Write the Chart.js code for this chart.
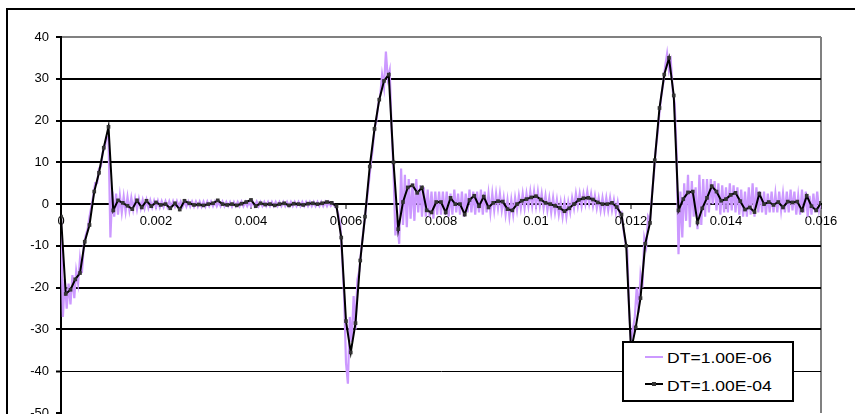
<!DOCTYPE html>
<html>
<head>
<meta charset="utf-8">
<script src="https://cdn.jsdelivr.net/npm/chart.js@4.4.1/dist/chart.umd.min.js"></script>
<style>
  html,body{margin:0;padding:0;background:#fff;overflow:hidden;width:855px;height:414px;}
  #wrap{position:relative;width:855px;height:414px;overflow:hidden;}
  #frame{position:absolute;left:6px;top:8px;width:900px;height:500px;border:2px solid #000;}
  #ch{position:absolute;left:0;top:0;}
  #legend{position:absolute;left:622px;top:341px;width:172px;height:61px;box-sizing:border-box;
    border:2px solid #000;background:#fff;font-family:"Liberation Sans",Arial,sans-serif;font-size:15px;color:#000;}
  .lg-line{position:absolute;left:21px;width:18px;height:2px;}
  .lg-dot{position:absolute;left:7px;top:-1px;width:4px;height:4px;}
  .lg-text{position:absolute;left:43px;height:18px;line-height:18px;white-space:nowrap;
    transform:scaleX(1.17);transform-origin:0 50%;}
</style>
</head>
<body>
<div id="wrap">
  <div id="frame"></div>
  <canvas id="ch" width="855" height="460"></canvas>
  <div id="legend"></div>
</div>
<script>
// ---- data ----
const seriesNames = ['DT=1.00E-06', 'DT=1.00E-04'];
const seriesColors = ['#CC99FF', '#000000'];
const xTickLabels = ['0', '0.002', '0.004', '0.006', '0.008', '0.01', '0.012', '0.014', '0.016'];
const yTickLabels = ['-50', '-40', '-30', '-20', '-10', '0', '10', '20', '30', '40'];

// DT=1.00E-04 : one value every 1e-4 s, t = 0 .. 0.016
const coarseStep = 0.0001;
const coarseVals = [
  -3, -21.5, -20.5, -18, -16.5, -9, -5, 3, 7.5, 13.5,
  18.5, -1.5, 0.9, 0.3, -0.4, -1.2, 0.9, -0.8, 0.8, -0.5,
  0.4, -0.2, 0, -1, 0.2, -1.3, 0.8, 0.2, -0.2, -0.1,
  -0.3, 0, 0.2, 0.9, 0, -0.2, 0, -0.3, 0.1, 0.5,
  1, -0.5, 0.2, -0.1, 0, -0.3, 0, 0.2, -0.3, 0.1,
  0, -0.2, 0.1, 0.2, 0, 0.2, 0.5, 0.3, -0.5, -8,
  -28, -35.5, -28.5, -13.5, -3, 9, 18, 25, 29.5, 31,
  10, -6, 0.5, 4, 4.5, 2.7, 4, -1.5, -2, 0.5,
  0.5, -2, 1.5, 0, 0, -2.5, 1, 2, -0.5, 1.8,
  -0.8, 0.3, 0.7, 0.6, -1.2, -1.5, 0, 0.8, 1.2, 1.6,
  1.9, 1.1, 0.3, 0, -0.4, -0.9, -1.7, -1, 0, 1,
  1.4, 1.5, 1.1, 0.4, 0, 0, 0.3, -0.7, -2.5, -10,
  -35, -29.5, -22.5, -9.5, -4.5, 10.5, 23, 31, 35, 26,
  -1.5, 1.2, 2.8, 3, -4.4, -1, 1.5, 4.3, 3, 0.8,
  1.2, 2.2, 2.7, 0.7, -1.3, -0.8, -1.9, 2.5, 0, 0.5,
  -0.2, 0.5, -0.8, 0.6, 0.4, 0.6, -1.5, 2, -0.5, -1.5,
  0.3
];

// DT=1.00E-06 : every 4e-5 s (one row = 1 ms)
const fineStep = 0.00004;
const fineVals = [
  -3, -27, -18, -25, -19, -24, -17, -22.5, -16, -19, -13, -16.5, -10, -7.5, -6, -3, -0.5, 2, 5, 5, 8.5, 9, 12.5, 13.5, 16,
  16, -8, 3, -3, 2.5, -2.5, 2, -2, 1.8, -1.8, 1.7, -1.5, 1.5, -1.3, 1.3, -1.3, 1.2, -1, 1, -1, 1, -0.9, 0.9, -0.8, 0.8,
  -0.8, 0.8, -0.8, 0.7, -0.7, 0.7, -0.7, 0.7, -0.7, 0.7, -0.6, 0.7, -0.6, 0.6, -0.6, 0.6, -0.6, 0.6, -0.6, 0.6, -0.6, 0.6, -0.6, 0.6, -0.6,
  0.6, -0.6, 0.6, -0.5, 0.6, -0.5, 0.6, -0.5, 0.5, -0.5, 0.6, -0.5, 0.5, -0.5, 0.5, -0.6, 0.5, -0.5, 0.5, -0.5, 0.6, -0.5, 0.5, -0.5, 0.5,
  -0.5, 0.5, -0.5, 0.6, -0.5, 0.5, -0.5, 0.5, -0.5, 0.5, -0.5, 0.5, -0.5, 0.5, -0.5, 0.5, -0.5, 0.5, -0.5, 0.5, -0.5, 0.5, -0.5, 0.5, -0.5,
  0.5, -0.5, 0.5, -0.5, 0.5, -0.5, 0.5, -0.5, 0.5, -0.5, 0.5, -0.5, 0.5, -0.5, 0.5, -0.5, 0.5, -0.4, 0.3, -0.5, -1, -2.5, -5, -13, -22,
  -38, -43, -27, -33, -22, -30, -18, -16, -11, -7, -3, 1, 5, 9.5, 13, 18, 20, 24, 26, 31, 28, 36.5, 30, 32, 18,
  8, -7.5, -4, -9.5, 8.5, -5, 7, -5.5, 6, -3.5, 5, -4, 6, -2, 4.5, -3, 4, -3, 3.5, -3, 3, -3.5, 3, -2.5, 3,
  -2.5, 3, -2.5, 3, -3, 2.5, -2.5, 3.5, -2, 2.5, -2.5, 3, -3, 2.5, -2, 3.5, -2, 3, -2.5, 3, -2, 3.5, -2.5, 3, -2,
  2.5, -2, 2.5, -1.5, 2.5, -1, 2.5, -1.5, 1.5, -2.5, 1, -3, 1, -2.5, 1.5, -1.5, 2, -1, 2.5, -1, 2.5, -0.5, 3, -0.5, 3,
  -0.5, 3, -0.5, 2.5, -1, 2, -1.5, 1.5, -2, 1.5, -2, 1, -2.5, 0.5, -3, 0.5, -3, 0.5, -2, 1.5, -1, 2.5, -0.5, 2.5, -0.5,
  2.5, 0, 3, 0, 2.5, -0.5, 2, -1, 1.5, -1.5, 1.5, -1.5, 1.5, -1.5, 1.5, -1.5, 1, -2, 0.5, -2.5, -2, -6, -9, -11, -25,
  -33, -30, -27, -20, -26, -17, -20, -8, -10, -3, -4, 2, 7, 13, 17, 22, 26, 29, 33, 36, 32, 34, 27, 24, 12,
  -12, 3, -8, 5, -4, 7, -5.5, 5.5, -3, 4, -6, 7, -5, 6, -3, 6, -2, 6, 0, 5.5, -1.5, 5, -2.5, 4.5, -2,
  4, -2, 5, -1.5, 4.5, -2, 4, -2.5, 3.5, -3, 3, -3, 4, -2.5, 5, -3, 4, -2, 3, -2, 3, -2.5, 2.5, -2, 3,
  -2, 2.5, -2, 3, -1.5, 2.5, -2, 3, -2, 3.5, -1.5, 3, -2.5, 2, -2.5, 3.5, -2, 3, -3, 2, -2.5, 2.5, -2, 3, -1.5,
  0.5
];

// ---- build ----
const toPts = (vals, step) => vals.map((v, k) => ({ x: +(k * step).toFixed(6), y: v }));
const FONT = '"Liberation Sans", Arial, sans-serif';

// legend (html, drawn over the plot like the original)
const lg = document.getElementById('legend');
[[13, 6], [40, 34]].forEach(([lineTop, textTop], i) => {
  const line = document.createElement('div');
  line.className = 'lg-line';
  line.style.top = lineTop + 'px';
  line.style.background = seriesColors[i];
  if (i === 1) {
    const dot = document.createElement('div');
    dot.className = 'lg-dot';
    dot.style.background = '#333';
    line.appendChild(dot);
  }
  const txt = document.createElement('div');
  txt.className = 'lg-text';
  txt.style.top = textTop + 'px';
  txt.textContent = seriesNames[i];
  lg.appendChild(line);
  lg.appendChild(txt);
});

new Chart(document.getElementById('ch'), {
  type: 'line',
  data: {
    datasets: [
      { label: seriesNames[1], data: toPts(coarseVals, coarseStep), order: 1,
        borderColor: seriesColors[1], borderWidth: 2, tension: 0,
        pointStyle: 'rect', pointRadius: 2.6, pointBorderWidth: 0,
        pointBackgroundColor: '#333', pointBorderColor: '#333' },
      { label: seriesNames[0], data: toPts(fineVals, fineStep), order: 2,
        borderColor: seriesColors[0], borderWidth: 2.2, tension: 0, pointRadius: 0 }
    ]
  },
  options: {
    responsive: false, animation: false, events: [],
    layout: { padding: { left: 0, top: 37, right: 34, bottom: 47 } },
    plugins: { legend: { display: false }, tooltip: { enabled: false } },
    scales: {
      x: {
        type: 'linear', min: 0, max: 0.016, position: { y: 0 },
        ticks: { stepSize: 0.002, autoSkip: false, maxRotation: 0, padding: 6, color: '#000',
                 font: { family: FONT, size: 13 }, callback: (v, i) => xTickLabels[i] },
        grid: { color: c => c.index === xTickLabels.length - 1 ? '#808080' : 'rgba(0,0,0,0)',
                lineWidth: 2, tickColor: '#000', tickLength: 4, tickWidth: 1 },
        border: { color: '#000', width: 2 }
      },
      y: {
        min: -50, max: 40,
        afterFit: s => { s.width = 61; },
        ticks: { stepSize: 10, padding: 7, color: '#000',
                 font: { family: FONT, size: 13 }, callback: (v, i) => yTickLabels[i] },
        grid: { color: c => c.tick.value === 40 ? '#808080' : (c.tick.value === -50 ? 'rgba(0,0,0,0)' : '#000'),
                lineWidth: c => c.tick.value === -40 ? 1 : 2, tickColor: '#000', tickLength: 5, tickWidth: 2 },
        border: { color: '#000', width: 2 }
      }
    }
  }
});
</script>
</body>
</html>
